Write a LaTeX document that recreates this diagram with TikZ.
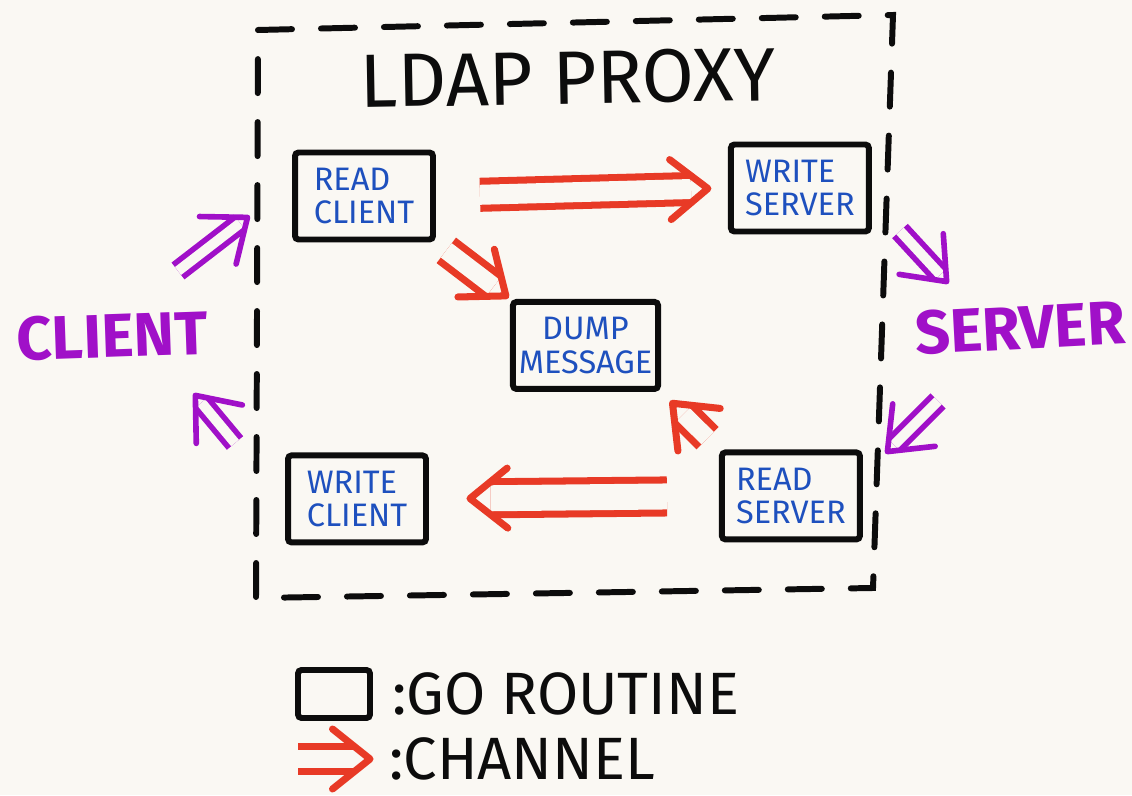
\documentclass[tikz,border=0pt]{standalone}
\usepackage{fontspec}
\setmainfont{Fira Sans}
\usepackage{tikz}
\usetikzlibrary{arrows.meta, positioning, decorations.markings}
\definecolor{myred}{RGB}{232,58,38}
\definecolor{myblue}{RGB}{30,80,190}
\definecolor{mypurple}{RGB}{160,16,200}
\definecolor{myink}{RGB}{12,12,12}
\definecolor{mypaper}{RGB}{250,248,243}
% open v-shaped head for the two-line arrows
\newcommand{\veehead}[2]{%
  \pgfsetarrows{-}\pgfsetshortenstart{0pt}\pgfsetshortenend{0pt}%
  \pgfsetlinewidth{#2}\pgfsetroundcap\pgfsetroundjoin\pgfsetstrokecolor{#1}%
  \pgfpathmoveto{\pgfpoint{-0.75cm}{0.6cm}}%
  \pgfpathlineto{\pgfpointorigin}%
  \pgfpathlineto{\pgfpoint{-0.75cm}{-0.6cm}}%
  \pgfusepath{stroke}}
\tikzset{
  gobox/.style={rectangle, draw=myink, line width=3.4pt, rounded corners=2pt,
    minimum width=2.76cm, minimum height=1.74cm, align=left,
    text=myblue, font=\fontsize{18.5}{19}\selectfont},
  chan/.style={draw=myred, line width=4pt, double=mypaper, double distance=0.4cm},
  extarrow/.style={draw=mypurple, line width=3.2pt, double=mypaper,
    double distance=0.2cm, shorten >=0.2cm,
    headat={0.01cm}{mypurple}{3.2pt}},
  headat/.style n args={3}{postaction={decorate, decoration={markings,
    mark=at position -#1 with {\veehead{#2}{#3}}}}},
  redhead/.style={headat={#1}{myred}{4pt}},
  proxyframe/.style={draw=myink, line width=3.4pt, line cap=round,
    dash pattern=on 0.68cm off 0.58cm},
  proxytitle/.style={text=myink, font=\fontsize{43}{43}\selectfont},
  endpoint/.style={text=mypurple, font=\bfseries\fontsize{35}{35}\selectfont},
  legtext/.style={text=myink, anchor=west, font=\fontsize{34}{34}\selectfont}
}
\begin{document}
\begin{tikzpicture}[x=0.02cm, y=0.02cm]
  \fill[mypaper] (0,0) rectangle (1132,795);
  \useasboundingbox (0,0) rectangle (1132,795);

  % proxy
  \draw[proxyframe] (258,765) -- (893,780) -- (873,207) -- (256,197) -- cycle;
  \node[proxytitle, rotate=1] (proxy) at (568,717) {LDAP PROXY};

  \node[gobox] (rc) at (364,599) {READ\\CLIENT};
  \node[gobox, right=5.84cm of rc, yshift=0.16cm] (ws) {WRITE\\SERVER};
  \node[gobox, align=center, below right=1.13cm and 1.48cm of rc] (dm) {DUMP\\MESSAGE};
  \node[gobox, below=4.2cm of rc, xshift=-0.14cm] (wc) {WRITE\\CLIENT};
  \node[gobox, below=4.3cm of ws, xshift=-0.18cm] (rs) {READ\\SERVER};

  \draw[chan, shorten <=0.88cm, shorten >=0.74cm, redhead=0.4cm] (rc.east) -- (ws.west);
  \draw[chan, double distance=0.36cm, shorten <=0.26cm, shorten >=0.41cm, redhead=0.1cm] (rc.south east) -- (dm.north west);
  \draw[chan, double distance=0.35cm, shorten <=0.32cm, shorten >=0.63cm, redhead=0.32cm] (rs.north west) -- (dm.south east);
  \draw[chan, double distance=0.52cm, shorten <=1.04cm, shorten >=1.23cm, redhead=0.82cm] (rs.west) -- (wc.east);

  % outside
  \node[endpoint, rotate=2] (client) at (112,459) {CLIENT};
  \node[endpoint, rotate=3] (server) at (1020,467) {SERVER};

  \coordinate (c1) at (178,524);
  \coordinate (c2) at (248,578);
  \coordinate (c3) at (235,352);
  \coordinate (c4) at (195,400);
  \coordinate (s1) at (900,564);
  \coordinate (s2) at (947,513);
  \coordinate (s3) at (938,394);
  \coordinate (s4) at (887,343);
  \draw[extarrow] (c1) -- (c2);
  \draw[extarrow] (c3) -- (c4);
  \draw[extarrow] (s1) -- (s2);
  \draw[extarrow] (s3) -- (s4);

  % legend
  \node[gobox, minimum width=1.44cm, minimum height=0.96cm] (lgbox) at (334,101) {};
  \node[legtext, right=0.26cm of lgbox] (lgroutine) {:GO ROUTINE};
  \coordinate (lgtail) at (298,36);
  \node[legtext] (lgchan) at (383,36) {:CHANNEL};
  \draw[chan, double distance=0.36cm, shorten >=0.57cm, redhead=0.26cm] (lgtail) -- (lgchan.west);
\end{tikzpicture}
\end{document}
